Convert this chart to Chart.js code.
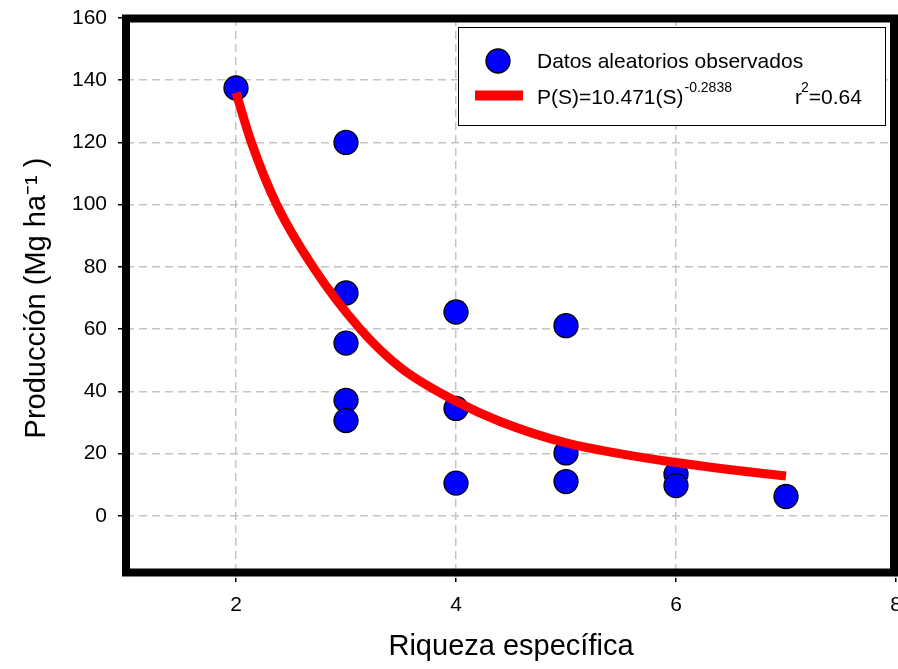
<!DOCTYPE html>
<html lang="es">
<head>
<meta charset="UTF-8" />
<title>Producción vs riqueza específica</title>
<script src="https://cdn.jsdelivr.net/npm/chart.js"></script>
<style>
  html,body{margin:0;padding:0;background:#fff;}
</style>
</head>
<body>
<canvas id="chart" width="898" height="669"></canvas>
<script>
// observed points
const riqueza   =[2,3,3,3,3,3,4,4,4,5,5,5,6,6,7];
const produccion=[137.5,120,71.6,55.5,37.1,30.6,65.5,34.5,10.5,61.1,20.2,11.0,13.4,9.7,6.2];
// fitted curve
const ajusteX=[2,2.14,2.37,2.7,3.13,3.5,4,4.4,5,5.5,6,6.5,7];
const ajusteY=[136,120,100,80,60,47.5,36.8,30.3,23.4,19.9,17.1,14.8,12.8];
// axis ticks
const xTicks=[2,4,6,8];
const yTicks=[0,20,40,60,80,100,120,140,160];

const FONT='"Liberation Sans", Arial, sans-serif';
const GRID='#c4c4c4';

const frame={
  id:'frame',
  afterDatasetsDraw(chart){
    const {ctx,chartArea:a}=chart;
    ctx.save();
    ctx.strokeStyle='#000';
    ctx.lineWidth=8;
    ctx.lineJoin='miter';
    ctx.strokeRect(a.left,a.top+0.5,a.right-2-a.left,a.bottom-5.5-a.top-0.5);
    ctx.restore();
  }
};

const legendBox={
  id:'legendBox',
  afterDatasetsDraw(chart){
    const ctx=chart.ctx;
    const pts=chart.data.datasets[1];
    const fit=chart.data.datasets[0];
    ctx.save();
    ctx.fillStyle='#fff';
    ctx.fillRect(458,27,427,98);
    ctx.strokeStyle='#000';ctx.lineWidth=1;
    ctx.strokeRect(458.5,27.5,427,98);

    ctx.beginPath();ctx.arc(498,61,12,0,Math.PI*2);
    ctx.fillStyle=pts.backgroundColor;ctx.fill();
    ctx.lineWidth=pts.borderWidth;ctx.strokeStyle=pts.borderColor;ctx.stroke();

    ctx.fillStyle='#000';ctx.textBaseline='alphabetic';ctx.textAlign='left';
    ctx.font='21px '+FONT;
    ctx.fillText(pts.label,537,68);

    ctx.fillStyle=fit.borderColor;
    ctx.fillRect(475,90.5,48,10);

    ctx.fillStyle='#000';
    const eq='P(S)=10.471(S)';
    ctx.font='21px '+FONT;
    ctx.fillText(eq,537,104);
    const w=ctx.measureText(eq).width;
    ctx.font='14px '+FONT;
    ctx.fillText('-0.2838',537+w+1,92);

    ctx.font='21px '+FONT;
    ctx.fillText('r',795,104);
    const wr=ctx.measureText('r').width;
    ctx.font='14px '+FONT;
    ctx.fillText('2',795+wr-1,92);
    const w2=ctx.measureText('2').width;
    ctx.font='21px '+FONT;
    ctx.fillText('=0.64',795+wr-1+w2,104);
    ctx.restore();
  }
};

new Chart(document.getElementById('chart'),{
  type:'scatter',
  data:{datasets:[
    {
      label:'P(S)=10.471(S)^-0.2838',
      data:ajusteX.map((x,i)=>({x,y:ajusteY[i]})),
      showLine:true,
      borderColor:'#ff0000',
      borderWidth:9,
      borderCapStyle:'butt',
      pointRadius:0,
      cubicInterpolationMode:'monotone',
      fill:false,
      order:0
    },
    {
      label:'Datos aleatorios observados',
      data:riqueza.map((x,i)=>({x,y:produccion[i]})),
      backgroundColor:'#0000ff',
      borderColor:'#000',
      borderWidth:1.3,
      pointRadius:12,
      order:1
    }
  ]},
  options:{
    responsive:false,
    animation:false,
    layout:{autoPadding:false,padding:{top:18,right:2,left:0,bottom:0}},
    plugins:{legend:{display:false},tooltip:{enabled:false}},
    scales:{
      x:{
        type:'linear',min:1,max:8,
        afterBuildTicks:s=>{s.ticks=xTicks.map(v=>({value:v}));},
        afterFit:s=>{s.height=91;s.paddingRight=0;s.paddingLeft=0;},
        grid:{color:GRID,lineWidth:1.5,tickColor:'#000',tickWidth:1.5,tickLength:4},
        border:{display:false,dash:[8,5]},
        ticks:{color:'#000',font:{size:21,family:FONT},padding:11,maxRotation:0,autoSkip:false},
        title:{display:true,text:'Riqueza específica',color:'#000',
               font:{size:29,family:FONT},padding:{top:0,bottom:5}}
      },
      y:{
        min:-20,max:160,
        afterBuildTicks:s=>{s.ticks=yTicks.map(v=>({value:v}));},
        afterFit:s=>{s.width=126;s.paddingTop=0;},
        grid:{color:GRID,lineWidth:1.5,tickColor:'#000',tickWidth:1.5,tickLength:8},
        border:{display:false,dash:[8,5]},
        ticks:{color:'#000',font:{size:21,family:FONT},padding:11,autoSkip:false},
        title:{display:true,text:'Producción (Mg ha⁻¹ )',color:'#000',
               font:{size:29,family:FONT},padding:{top:20,bottom:0}}
      }
    }
  },
  plugins:[frame,legendBox]
});
</script>
</body>
</html>
